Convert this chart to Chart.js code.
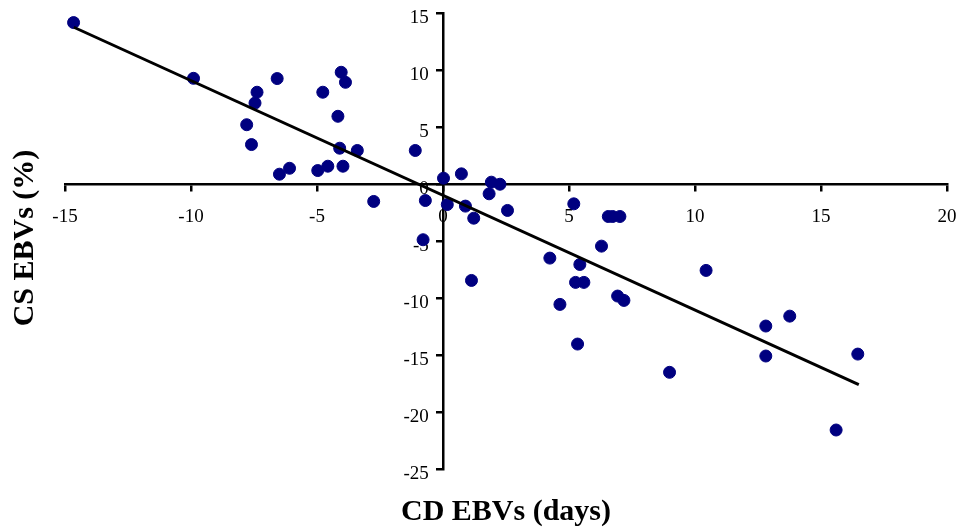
<!DOCTYPE html>
<html>
<head>
<meta charset="utf-8">
<title>CS vs CD EBVs</title>
<script src="https://cdn.jsdelivr.net/npm/chart.js@4/dist/chart.umd.min.js"></script>
<style>
  html, body { margin: 0; padding: 0; background: #fff; }
  #wrap { position: relative; width: 958px; height: 529px; }
</style>
</head>
<body>
<div id="wrap"><canvas id="ebvChart"></canvas></div>
<script>
// CD EBVs (days) vs CS EBVs (%) for each sire
var cdEbv = [-14.66, -9.9, -6.58, -7.38, -7.46, -7.79, -7.6, -6.49, -6.09, -4.97,
             -4.57, -4.04, -3.87, -4.77, -4.17, -4.1, -3.4, -3.97, -1.1, -2.75,
             -0.7, -0.79, 0.02, 0.73, 1.92, 2.26, 1.83, 0.17, 0.89, 1.22,
             2.56, 1.13, 5.19, 6.56, 6.73, 7.02, 6.29, 4.24, 5.43, 5.26,
             5.59, 4.64, 6.93, 7.18, 10.44, 12.81, 13.76, 5.34, 8.99, 12.81,
             16.46, 15.6];
var csEbv = [14.16, 9.27, 9.25, 8.05, 7.1, 5.2, 3.46, 0.86, 1.38, 1.18,
             1.56, 9.8, 8.92, 8.05, 5.94, 3.14, 2.94, 1.56, 2.94, -1.53,
             -1.45, -4.89, 0.51, 0.89, 0.16, -0.02, -0.86, -1.8, -1.94, -3.0,
             -2.32, -8.46, -1.74, -2.85, -2.85, -2.85, -5.45, -6.5, -7.06, -8.63,
             -8.63, -10.56, -9.83, -10.21, -7.58, -12.46, -11.59, -14.04, -16.52, -15.09,
             -14.92, -21.58];

// fitted trend line end points
var trendX = [-14.65, 16.5];
var trendY = [13.75, -17.6];

var xTicks = [-15, -10, -5, 0, 5, 10, 15, 20];
var yTicks = [-25, -20, -15, -10, -5, 0, 5, 10, 15];

var points = cdEbv.map(function (x, i) { return { x: x, y: csEbv[i] }; });
var trend = trendX.map(function (x, i) { return { x: x, y: trendY[i] }; });

var serif = "'Liberation Serif', 'Times New Roman', serif";

// axis titles drawn outside the crossing axes
var axisTitles = {
    id: "axisTitles",
    afterDraw: function (chart) {
        var ctx = chart.ctx, area = chart.chartArea;
        ctx.save();
        ctx.fillStyle = "#000";
        ctx.font = "bold 30px " + serif;
        ctx.textAlign = "center";
        ctx.textBaseline = "middle";
        ctx.fillText("CD EBVs (days)", (area.left + area.right) / 2, 512);
        ctx.translate(25, 238);
        ctx.rotate(-Math.PI / 2);
        ctx.fillText("CS EBVs (%)", 0, 0);
        ctx.restore();
    }
};

// let the layout padding alone decide the plot edges
function noOverhang(axis) {
    axis.paddingLeft = 0;
    axis.paddingRight = 0;
    axis.paddingTop = 0;
    axis.paddingBottom = 0;
}

var ctx = document.getElementById("ebvChart").getContext("2d");
new Chart(ctx, {
    type: "scatter",
    data: {
        datasets: [{
            label: "EBVs",
            data: points,
            backgroundColor: "#000080",
            borderColor: "#000080",
            pointRadius: 6,
            pointHoverRadius: 6,
            order: 2
        }, {
            type: "line",
            label: "Trend",
            data: trend,
            borderColor: "#000",
            borderWidth: 3,
            pointRadius: 0,
            fill: false,
            order: 1
        }]
    },
    options: {
        responsive: true,
        maintainAspectRatio: false,
        animation: false,
        layout: { padding: { left: 65, right: 11, top: 13, bottom: 60 } },
        plugins: {
            legend: { display: false },
            tooltip: { enabled: false }
        },
        scales: {
            x: {
                type: "linear",
                position: { y: 0 },
                min: -15, max: 20,
                afterBuildTicks: function (axis) {
                    axis.ticks = xTicks.map(function (v) { return { value: v }; });
                },
                afterFit: noOverhang,
                border: { display: true, color: "#000", width: 2.5 },
                grid: { drawOnChartArea: false, drawTicks: true, tickLength: 6, color: "#000", lineWidth: 2.5 },
                ticks: {
                    color: "#000",
                    padding: 16,
                    maxRotation: 0,
                    font: { family: serif, size: 19 }
                }
            },
            y: {
                type: "linear",
                position: { x: 0 },
                min: -25, max: 15,
                afterBuildTicks: function (axis) {
                    axis.ticks = yTicks.map(function (v) { return { value: v }; });
                },
                afterFit: noOverhang,
                border: { display: true, color: "#000", width: 2.5 },
                grid: { drawOnChartArea: false, drawTicks: true, tickLength: 6, color: "#000", lineWidth: 2.5 },
                ticks: {
                    color: "#000",
                    labelOffset: 5,
                    // right-aligned on the axis line, so pad with spaces to clear the tick marks
                    callback: function (value) { return value + "   "; },
                    font: { family: serif, size: 19 }
                }
            }
        }
    },
    plugins: [axisTitles]
});
</script>
</body>
</html>
